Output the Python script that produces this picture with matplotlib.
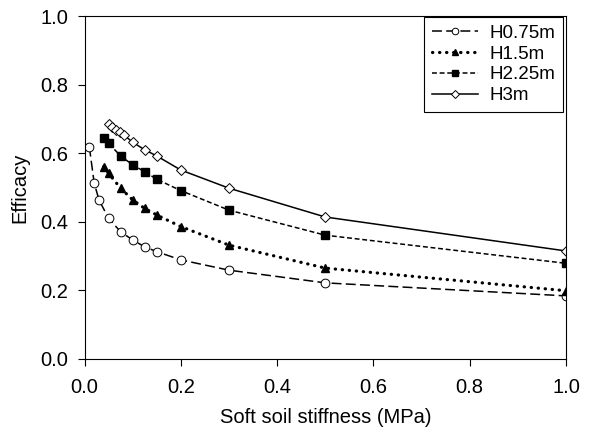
import matplotlib
matplotlib.use("Agg")
import matplotlib.pyplot as plt
from matplotlib.ticker import FormatStrFormatter

plt.rcParams['font.family'] = ['Liberation Sans', 'DejaVu Sans']

# soft soil stiffness (MPa) and efficacy per embankment height
x_h075 = [0.01, 0.02, 0.03, 0.05, 0.075, 0.1, 0.125, 0.15, 0.2, 0.3, 0.5, 1.0]
y_h075 = [0.619, 0.514, 0.464, 0.410, 0.371, 0.347, 0.327, 0.313, 0.289, 0.259, 0.222, 0.184]

x_h15 = [0.04, 0.05, 0.075, 0.1, 0.125, 0.15, 0.2, 0.3, 0.5, 1.0]
y_h15 = [0.561, 0.541, 0.498, 0.464, 0.439, 0.420, 0.386, 0.332, 0.265, 0.199]

x_h225 = [0.04, 0.05, 0.075, 0.1, 0.125, 0.15, 0.2, 0.3, 0.5, 1.0]
y_h225 = [0.643, 0.629, 0.592, 0.566, 0.546, 0.524, 0.491, 0.434, 0.361, 0.279]

x_h3 = [0.05, 0.058, 0.066, 0.074, 0.082, 0.1, 0.125, 0.15, 0.2, 0.3, 0.5, 1.0]
y_h3 = [0.684, 0.675, 0.668, 0.661, 0.653, 0.632, 0.610, 0.592, 0.551, 0.498, 0.414, 0.315]

ticks = [0.0, 0.2, 0.4, 0.6, 0.8, 1.0]

fig = plt.figure(figsize=(5.94, 4.32), dpi=100)
ax = fig.add_axes([84.5 / 594, 1 - 359 / 432, 481.5 / 594, 343 / 432])

ax.plot(x_h075, y_h075, color="black", lw=1.1, dashes=(6.5, 2.8),
        marker="o", ms=6.3, mfc="white", mec="black", mew=0.7, label="H0.75m")
ax.plot(x_h15, y_h15, color="black", lw=2.3, dashes=(0.1, 2.1), dash_capstyle="round",
        marker="^", ms=6.3, mfc="black", mec="black", label="H1.5m")
ax.plot(x_h225, y_h225, color="black", lw=1.1, dashes=(3.2, 1.8),
        marker="s", ms=5.6, mfc="black", mec="black", label="H2.25m")
ax.plot(x_h3, y_h3, color="black", lw=1.1, ls="-",
        marker="D", ms=5.6, mfc="white", mec="black", mew=0.7, label="H3m")

ax.set_xlim(0, 1.0)
ax.set_ylim(0, 1.0)
ax.set_xticks(ticks)
ax.set_yticks(ticks)
ax.xaxis.set_major_formatter(FormatStrFormatter("%.1f"))
ax.yaxis.set_major_formatter(FormatStrFormatter("%.1f"))
ax.tick_params(direction="out", length=5, width=0.8, labelsize=14.5)
ax.tick_params(axis="x", pad=8.5)
ax.tick_params(axis="y", pad=6.5)
for s in ax.spines.values():
    s.set_linewidth(0.8)

ax.set_xlabel("Soft soil stiffness (MPa)", fontsize=14.5, labelpad=8)
ax.set_ylabel("Efficacy", fontsize=14.5, labelpad=8)

leg = ax.legend(loc="upper right", bbox_to_anchor=(0.994, 0.997), fontsize=13.5,
                frameon=True, fancybox=False, edgecolor="black", framealpha=1,
                handlelength=2.5, handletextpad=0.6, borderpad=0.4,
                labelspacing=0.2, borderaxespad=0, markerscale=0.75)
leg.get_frame().set_linewidth(0.8)

fig.savefig("out.png", dpi=100)
